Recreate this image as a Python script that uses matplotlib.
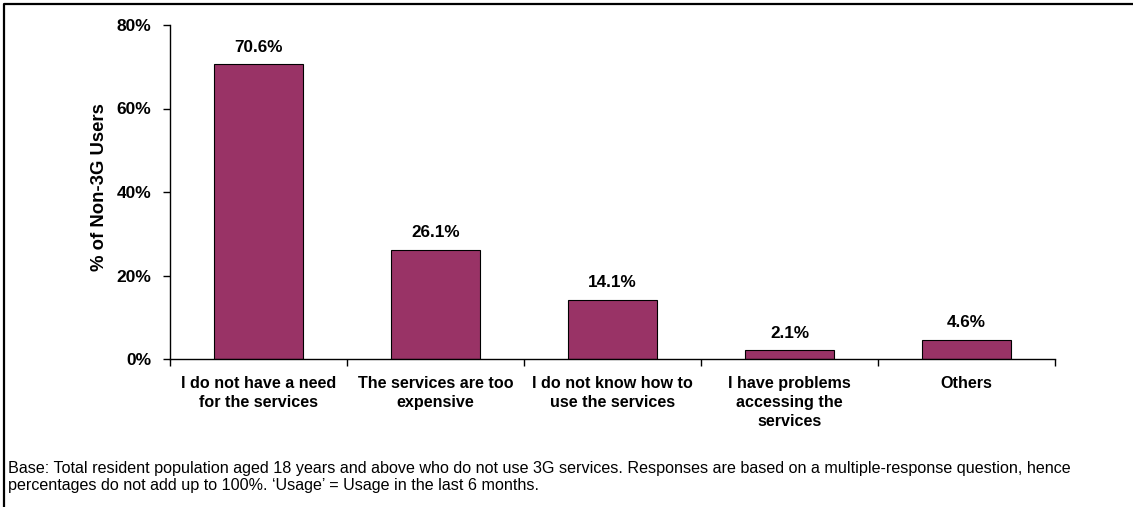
import matplotlib
matplotlib.use("Agg")
from matplotlib import pyplot as plt
from matplotlib.lines import Line2D
import numpy as np

plt.rcParams['font.family'] = ['Liberation Sans', 'DejaVu Sans']

# Reasons given by non-3G users
categories = ["I do not have a need\nfor the services",
              "The services are too\nexpensive",
              "I do not know how to\nuse the services",
              "I have problems\naccessing the\nservices",
              "Others"]
shares = [70.6, 26.1, 14.1, 2.1, 4.6]
y_ticks = [0, 20, 40, 60, 80]

footnote = ("Base: Total resident population aged 18 years and above who do not use 3G services. "
            "Responses are based on a multiple-response question, hence\n"
            "percentages do not add up to 100%. \u2018Usage\u2019 = Usage in the last 6 months.")

W, H = 1133, 507
fig = plt.figure(figsize=(W / 100, H / 100), dpi=100)
ax = fig.add_axes([170 / W, 1 - 359 / H, (1055 - 170) / W, (359 - 25) / H])

x = np.arange(len(categories))
bars = ax.bar(x, shares, width=0.5, color='#993366', edgecolor='black', linewidth=0.8)

for b, v in zip(bars, shares):
    ax.annotate(f"{v:.1f}%", (b.get_x() + b.get_width() / 2, v),
                xytext=(0, 7), textcoords='offset points',
                ha='center', va='bottom', fontsize=12.3, fontweight='bold')

ax.set_xlim(-0.5, len(categories) - 0.5)
ax.set_ylim(0, 80)
ax.set_yticks(y_ticks)
ax.set_yticklabels([f"{t}%" for t in y_ticks], fontsize=12.5, fontweight='bold')
ax.tick_params(axis='y', length=5, width=1, pad=8.5)

# category labels sit between boundary ticks
ax.set_xticks(x)
ax.set_xticklabels(categories, fontsize=11.6, fontweight='bold', linespacing=1.35, va='top')
ax.tick_params(axis='x', length=0, pad=12)
ax.set_xticks(np.arange(len(categories) + 1) - 0.5, minor=True)
ax.tick_params(axis='x', which='minor', length=5, width=1, direction='out')

for s in ['top', 'right']:
    ax.spines[s].set_visible(False)
ax.spines['left'].set_linewidth(1)
ax.spines['bottom'].set_linewidth(1)

fig.text(100 / W, 1 - 187 / H, "% of Non-3G Users", rotation=90,
         ha='center', va='center', fontsize=13.3, fontweight='bold')

fig.text(8 / W, 1 - 477 / H, footnote, ha='left', va='center', fontsize=11.6,
         linespacing=1.1)

# outer frame, top and left edges
fig.add_artist(Line2D([3.5 / W, 3.5 / W, 1.0], [0.0, 1 - 3.5 / H, 1 - 3.5 / H],
                      transform=fig.transFigure, color='black', linewidth=1.6))

fig.savefig("out.png", dpi=100)
